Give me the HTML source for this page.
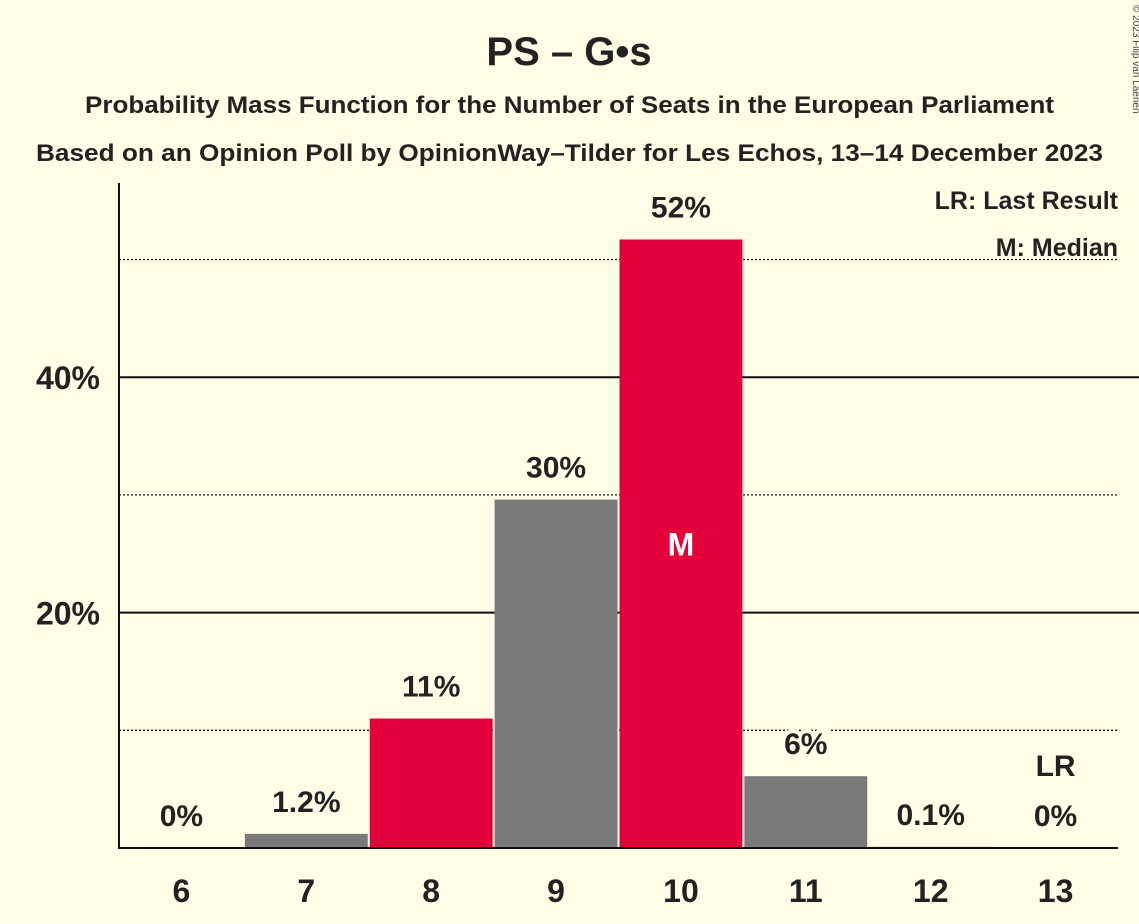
<!DOCTYPE html>
<html><head><meta charset="utf-8"><style>
html,body{margin:0;padding:0;background:#fffde6;}
svg{display:block;font-family:"Liberation Sans",sans-serif;font-weight:bold;}
</style></head><body>
<svg id="chart" width="1139" height="924" viewBox="0 0 1139 924">
<rect width="1139" height="924" fill="#fffde6"/>
<text x="569" y="65" text-anchor="middle" font-size="40" fill="#222">PS – G•s</text>
<text x="85" y="113" font-size="24" fill="#222" textLength="969" lengthAdjust="spacingAndGlyphs">Probability Mass Function for the Number of Seats in the European Parliament</text>
<text x="36" y="161" font-size="24" fill="#222" textLength="1067" lengthAdjust="spacingAndGlyphs">Based on an Opinion Poll by OpinionWay–Tilder for Les Echos, 13–14 December 2023</text>
<text x="1133" y="5" font-size="10" font-weight="normal" fill="#444" transform="rotate(90 1133 5)">© 2023 Filip van Laenen</text>
<g id="grid"></g>
<g id="bars"></g>
<g id="axes"></g>
<text x="1118" y="209" text-anchor="end" font-size="25" fill="#222">LR: Last Result</text>
<text x="1118" y="256" text-anchor="end" font-size="25" fill="#222">M: Median</text>
</svg>
<script>
const categories=[6,7,8,9,10,11,12,13];
const values=[0,1.2,11,29.6,51.7,6.1,0.1,0];
const labels=["0%","1.2%","11%","30%","52%","6%","0.1%","0%"];
const barColors=["#7a7a7a","#7a7a7a","#e4003b","#7a7a7a","#e4003b","#7a7a7a","#7a7a7a","#7a7a7a"];
const solidTicks=[20,40];
const dottedTicks=[10,30,50];
const medianSeat=10, lastResultSeat=13;
const NS="http://www.w3.org/2000/svg";
const x0=119,x1=1118,y0=848,pxPer=11.77,slot=(x1-x0)/categories.length;
const y=v=>y0-v*pxPer;
const xc=i=>x0+slot*(i+0.5);
function mk(tag,attrs,parent,text){const e=document.createElementNS(NS,tag);for(const k in attrs)e.setAttribute(k,attrs[k]);if(text!==undefined)e.textContent=text;parent.appendChild(e);return e;}
const grid=document.getElementById('grid'),bars=document.getElementById('bars'),axes=document.getElementById('axes');
solidTicks.forEach(t=>{
 const l=mk('line',{x1:x0,x2:1139,y1:y(t),y2:y(t),stroke:'#111','stroke-width':2},grid);
 
 
 const tx=mk('text',{x:100,y:y(t)+12,'text-anchor':'end','font-size':32,fill:'#222'},axes,t+'%');
 
 
});
dottedTicks.forEach(t=>{
 const l=mk('line',{x1:x0,x2:1118,y1:y(t),y2:y(t),stroke:'#111','stroke-width':1.3,'stroke-dasharray':'2,2'},grid);
 
 
});
categories.forEach((c,i)=>{
 const w=slot-2,h=values[i]*pxPer;
 if(values[i]>0){
  const r=mk('rect',{x:xc(i)-w/2,y:y0-h,width:w,height:h,fill:barColors[i]},bars);
  
  
 }
 const ly=y(values[i])-22;
 const t=mk('text',{x:xc(i),y:ly,'text-anchor':'middle','font-size':30,fill:'#222',stroke:'#fffde6','stroke-width':8,'paint-order':'stroke'},bars,labels[i]);
 
 
 if(c===medianSeat){
  const m=mk('text',{x:xc(i),y:y(values[i]/2)+12,'text-anchor':'middle','font-size':32,fill:'#fff'},bars,'M');
  
  
 }
 if(c===lastResultSeat){
  const m=mk('text',{x:xc(i),y:ly-50,'text-anchor':'middle','font-size':30,fill:'#222'},bars,'LR');
  
  
 }
 const xt=mk('text',{x:xc(i),y:902,'text-anchor':'middle','font-size':32,fill:'#222'},axes,String(c));
 
 
});
const ya=mk('line',{x1:x0,x2:x0,y1:183,y2:y0+1,stroke:'#111','stroke-width':2},axes);


const xa=mk('line',{x1:x0,x2:x1,y1:y0,y2:y0,stroke:'#111','stroke-width':2},axes);


</script>
</body></html>
